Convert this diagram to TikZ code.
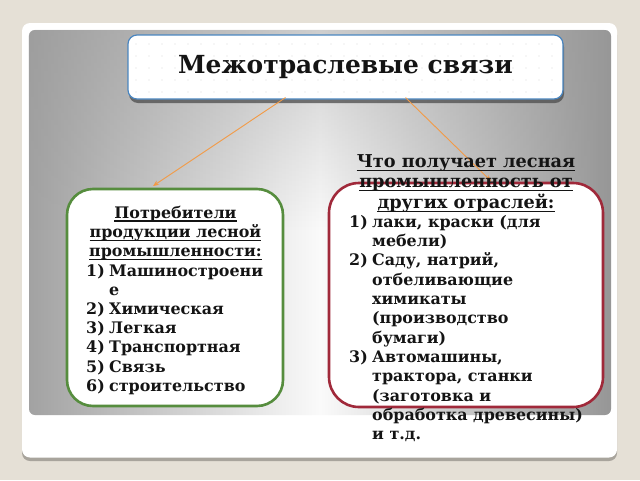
\documentclass[tikz,border=0pt]{standalone}
\usepackage{fontspec}
\setmainfont{DejaVu Serif}
\usetikzlibrary{fadings,calc,arrows.meta,shadows}
\definecolor{bgbeige}{RGB}{229,224,214}
\definecolor{cardshadow}{RGB}{168,164,156}
\definecolor{panelL}{RGB}{162,162,162}
\definecolor{panelR}{RGB}{150,150,150}
\definecolor{panelMid}{RGB}{250,250,250}
\definecolor{titleblue}{RGB}{74,134,192}
\definecolor{boxgreen}{RGB}{86,141,62}
\definecolor{boxred}{RGB}{160,41,58}
\definecolor{arroworange}{RGB}{243,154,69}
\definecolor{txt}{RGB}{20,20,20}
\begin{document}
\begin{tikzpicture}[x=1pt,y=-1pt,
  titlebox/.style={draw=titleblue, line width=1.2pt, rounded corners=9pt,
    font=\bfseries\fontsize{24.9}{28}\selectfont, text=txt},
  lboxstyle/.style={draw=boxgreen, line width=2.6pt, fill=white, rounded corners=26pt},
  rboxstyle/.style={draw=boxred, line width=2.6pt, fill=white, rounded corners=30pt},
  conn/.style={draw=arroworange, line width=0.9pt, -{Stealth[length=6pt,width=5pt]}},
  ltext/.style={inner sep=0pt, anchor=base west, text=txt, font=\bfseries\fontsize{15.9}{19}\selectfont},
  ctext/.style={inner sep=0pt, anchor=base, text=txt, font=\bfseries\fontsize{15.9}{19}\selectfont},
  bigctext/.style={inner sep=0pt, anchor=base, text=txt, font=\bfseries\fontsize{17.7}{21}\selectfont},
  uline/.style={draw=txt, line width=1.2pt},
  tdot/.style={fill=gray!28}]
\useasboundingbox (0,0) rectangle (640,480);
% background and card
\fill[bgbeige] (0,0) rectangle (640,480);
\fill[cardshadow, rounded corners=8pt] (22,27) rectangle (617,461);
\fill[white, rounded corners=8pt] (22,23) rectangle (617,457.5);
% grey panel
\shade[left color=panelL, right color=panelR, middle color=panelMid, rounded corners=6pt] (29,30) rectangle (611,415);
\fill[gray!80, path fading=south, opacity=0.45, rounded corners=6pt] (29,30) rectangle (611,230);
% title with shadow and dotted texture
\fill[black!70, opacity=0.75, rounded corners=9pt] (129,38) rectangle (564,103);
\fill[white, rounded corners=9pt] (128,35) rectangle (563,99);
\foreach \xx in {136,149,...,556}{\foreach \yy in {44,56,...,92}{\fill[tdot] (\xx,\yy) circle (0.55pt);}}
\node[titlebox, minimum width=435pt, minimum height=64pt] (title) at (345.5,67) {Межотраслевые связи};
% connectors (drawn before the boxes so the boxes cover their ends)
\coordinate (lend) at (153,186);
\coordinate (rend) at (491,181);
\draw[conn] ($(title.south)+(-60,-2)$) -- (lend);
\draw[conn] ($(title.south)+(60,-2)$) -- (rend);
% boxes
\node[lboxstyle, minimum width=216pt, minimum height=217pt] (lbox) at (175,297.5) {};
\node[rboxstyle, minimum width=274pt, minimum height=224pt] (rbox) at (466,295) {};
% left text
\foreach \t [count=\i] in {Потребители, продукции лесной, промышленности:}{
  \node[ctext] (lh\i) at (175.5,{218+19.2*(\i-1)}) {\t};
  \draw[uline] ($(lh\i.base west)+(0,3)$) -- ($(lh\i.base east)+(0,3)$);
}
\foreach \n/\t [count=\i] in {1)/Машиностроени, /е, 2)/Химическая, 3)/Легкая, 4)/Транспортная, 5)/Связь, 6)/строительство}{
  \node[ltext] (ln\i) at (86,{276+19.2*(\i-1)}) {\n};
  \node[ltext] (lt\i) at (109,{276+19.2*(\i-1)}) {\t};
}
% right text
\foreach \t [count=\i] in {Что получает лесная, промышленность от, других отраслей:}{
  \node[bigctext] (rh\i) at (466,{167+20.5*(\i-1)}) {\t};
  \draw[uline] ($(rh\i.base west)+(0,3.2)$) -- ($(rh\i.base east)+(0,3.2)$);
}
\foreach \n/\t [count=\i] in {1)/{лаки, краски (для}, /мебели), 2)/{Саду, натрий,}, /отбеливающие, /химикаты, /(производство, /бумаги), 3)/{Автомашины,}, /{трактора, станки}, /(заготовка и, /обработка древесины), /и т.д.}{
  \node[ltext] (rn\i) at (349,{227+19.36*(\i-1)}) {\n};
  \node[ltext] (rt\i) at (372,{227+19.36*(\i-1)}) {\t};
}
\end{tikzpicture}
\end{document}
